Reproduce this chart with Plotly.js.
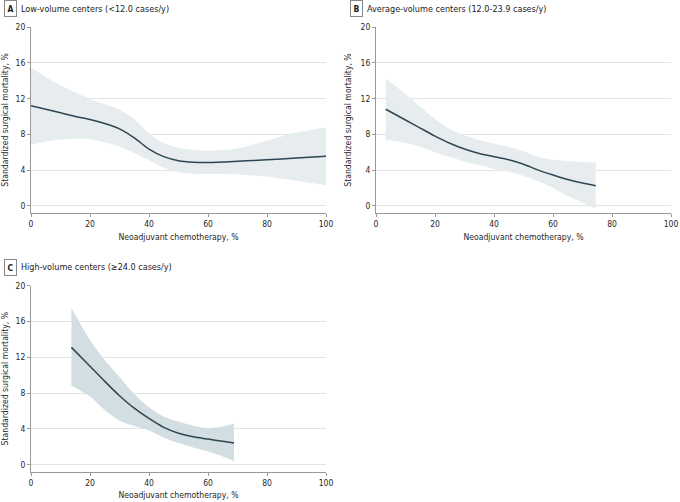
<!DOCTYPE html>
<html>
<head>
<meta charset="utf-8">
<script src="https://cdn.plot.ly/plotly-3.0.1.min.js"></script>
<style>
  body { margin: 0; background: #fff; }
  #chart { width: 680px; height: 502px; }
</style>
</head>
<body>
<div id="chart"></div>
<script>
// Panel A - low-volume centers
var lowX     = [0, 5, 10, 15, 20, 25, 30, 35, 40, 45, 50, 55, 60, 70, 80, 90, 100];
var lowFit   = [11.2, 10.8, 10.4, 10.0, 9.65, 9.2, 8.6, 7.6, 6.35, 5.5, 5.05, 4.88, 4.85, 4.98, 5.15, 5.35, 5.55];
var lowUpper = [15.5, 14.4, 13.5, 12.7, 11.95, 11.35, 10.75, 9.7, 8.1, 7.0, 6.5, 6.25, 6.15, 6.4, 7.3, 8.2, 8.8];
var lowLower = [6.8, 7.2, 7.4, 7.5, 7.45, 7.1, 6.6, 5.9, 5.1, 4.25, 3.75, 3.6, 3.55, 3.5, 3.25, 2.8, 2.3];

// Panel B - average-volume centers
var avgX     = [3.3, 10, 15, 20, 25, 30, 35, 40, 45, 50, 55, 60, 65, 70, 74.5];
var avgFit   = [10.8, 9.6, 8.7, 7.8, 7.0, 6.35, 5.85, 5.5, 5.15, 4.65, 4.0, 3.45, 2.95, 2.55, 2.25];
var avgUpper = [14.2, 12.5, 11.1, 9.7, 8.6, 7.9, 7.35, 6.95, 6.6, 6.1, 5.5, 5.15, 5.0, 4.9, 4.85];
var avgLower = [7.4, 7.05, 6.6, 6.0, 5.45, 4.95, 4.55, 4.15, 3.8, 3.35, 2.75, 2.0, 1.1, 0.35, -0.3];

// Panel C - high-volume centers
var highX     = [13.7, 20, 25, 30, 35, 40, 45, 50, 55, 60, 65, 68.8];
var highFit   = [13.1, 11.0, 9.3, 7.7, 6.3, 5.15, 4.15, 3.5, 3.1, 2.85, 2.6, 2.4];
var highUpper = [17.5, 13.9, 11.7, 9.8, 7.9, 6.4, 5.35, 4.8, 4.35, 4.1, 4.25, 4.6];
var highLower = [8.8, 7.6, 6.1, 4.9, 4.3, 3.8, 3.0, 2.4, 1.9, 1.45, 0.9, 0.38];

var panelLetters = ['A', 'B', 'C'];
var panelTitles = ['Low-volume centers (<12.0 cases/y)',
                   'Average-volume centers (12.0-23.9 cases/y)',
                   'High-volume centers (\u226524.0 cases/y)'];
var yTicks = [0, 4, 8, 12, 16, 20];
var xTicks = [0, 20, 40, 60, 80, 100];

var font = 'DejaVu Sans Condensed, Liberation Sans, sans-serif';
var lineColor = '#2c4653';
var textColor = '#262626';
var bandColors = ['#e7edef', '#e7edef', '#d3dee2'];

function panel(x, fit, lower, upper, n) {
    var xa = n == 1 ? 'x' : 'x' + n;
    var ya = n == 1 ? 'y' : 'y' + n;
    return [
        { x: x, y: lower, xaxis: xa, yaxis: ya, type: 'scatter', mode: 'lines',
          line: { width: 0, shape: 'spline', smoothing: 0.8 }, hoverinfo: 'skip', showlegend: false },
        { x: x, y: upper, xaxis: xa, yaxis: ya, type: 'scatter', mode: 'lines',
          fill: 'tonexty', fillcolor: bandColors[n - 1],
          line: { width: 0, shape: 'spline', smoothing: 0.8 }, hoverinfo: 'skip', showlegend: false },
        { x: x, y: fit, xaxis: xa, yaxis: ya, type: 'scatter', mode: 'lines',
          line: { color: lineColor, width: 1.5, shape: 'spline', smoothing: 0.8 }, showlegend: false }
    ];
}

var data = []
    .concat(panel(lowX, lowFit, lowLower, lowUpper, 1))
    .concat(panel(avgX, avgFit, avgLower, avgUpper, 2))
    .concat(panel(highX, highFit, highLower, highUpper, 3));

function xAxis(domain, anchor) {
    return {
        domain: domain, anchor: anchor, range: [0, 100],
        tickvals: xTicks, ticks: 'outside', ticklen: 3, tickcolor: '#999',
        showline: true, linecolor: '#999', linewidth: 1,
        showgrid: false, zeroline: false,
        tickfont: { family: font, size: 8.5, color: textColor },
        title: { text: 'Neoadjuvant chemotherapy, %', standoff: 5,
                 font: { family: font, size: 8.6, color: textColor } }
    };
}
function yAxis(domain, anchor) {
    return {
        domain: domain, anchor: anchor, range: [-0.8, 20],
        tickvals: yTicks, ticks: 'outside', ticklen: 3, tickcolor: '#999',
        showline: true, linecolor: '#999', linewidth: 1,
        showgrid: true, gridcolor: '#e3e3e3', zeroline: false,
        tickfont: { family: font, size: 8.5, color: textColor },
        title: { text: 'Standardized surgical mortality, %', standoff: 7,
                 font: { family: font, size: 8.6, color: textColor } }
    };
}

var topRow = [1 - 213 / 502, 1 - 27 / 502];
var botRow = [1 - 471.7 / 502, 1 - 285.7 / 502];
var leftCol = [31 / 680, 326 / 680];
var rightCol = [376 / 680, 671 / 680];

var labelPos = [[10, 9], [356, 9], [10, 267]];
var annotations = [];
for (var i = 0; i < 3; i++) {
    annotations.push({
        xref: 'paper', yref: 'paper',
        x: labelPos[i][0] / 680, y: 1 - labelPos[i][1] / 502,
        xanchor: 'center', yanchor: 'middle', showarrow: false,
        text: '<b>' + panelLetters[i] + '</b>',
        font: { family: font, size: 8.5, color: '#222' },
        bordercolor: '#888', borderwidth: 1, borderpad: 2.5, bgcolor: '#fff'
    });
    annotations.push({
        xref: 'paper', yref: 'paper',
        x: (labelPos[i][0] + 9) / 680, y: 1 - labelPos[i][1] / 502,
        xanchor: 'left', yanchor: 'middle', showarrow: false,
        text: panelTitles[i],
        font: { family: font, size: 9, color: '#222' }
    });
}

var layout = {
    width: 680, height: 502,
    margin: { l: 0, r: 0, t: 0, b: 0 },
    paper_bgcolor: '#fff', plot_bgcolor: '#fff',
    xaxis: xAxis(leftCol, 'y'),
    yaxis: yAxis(topRow, 'x'),
    xaxis2: xAxis(rightCol, 'y2'),
    yaxis2: yAxis(topRow, 'x2'),
    xaxis3: xAxis(leftCol, 'y3'),
    yaxis3: yAxis(botRow, 'x3'),
    annotations: annotations
};

Plotly.newPlot('chart', data, layout, { displayModeBar: false, staticPlot: true });
</script>
</body>
</html>
